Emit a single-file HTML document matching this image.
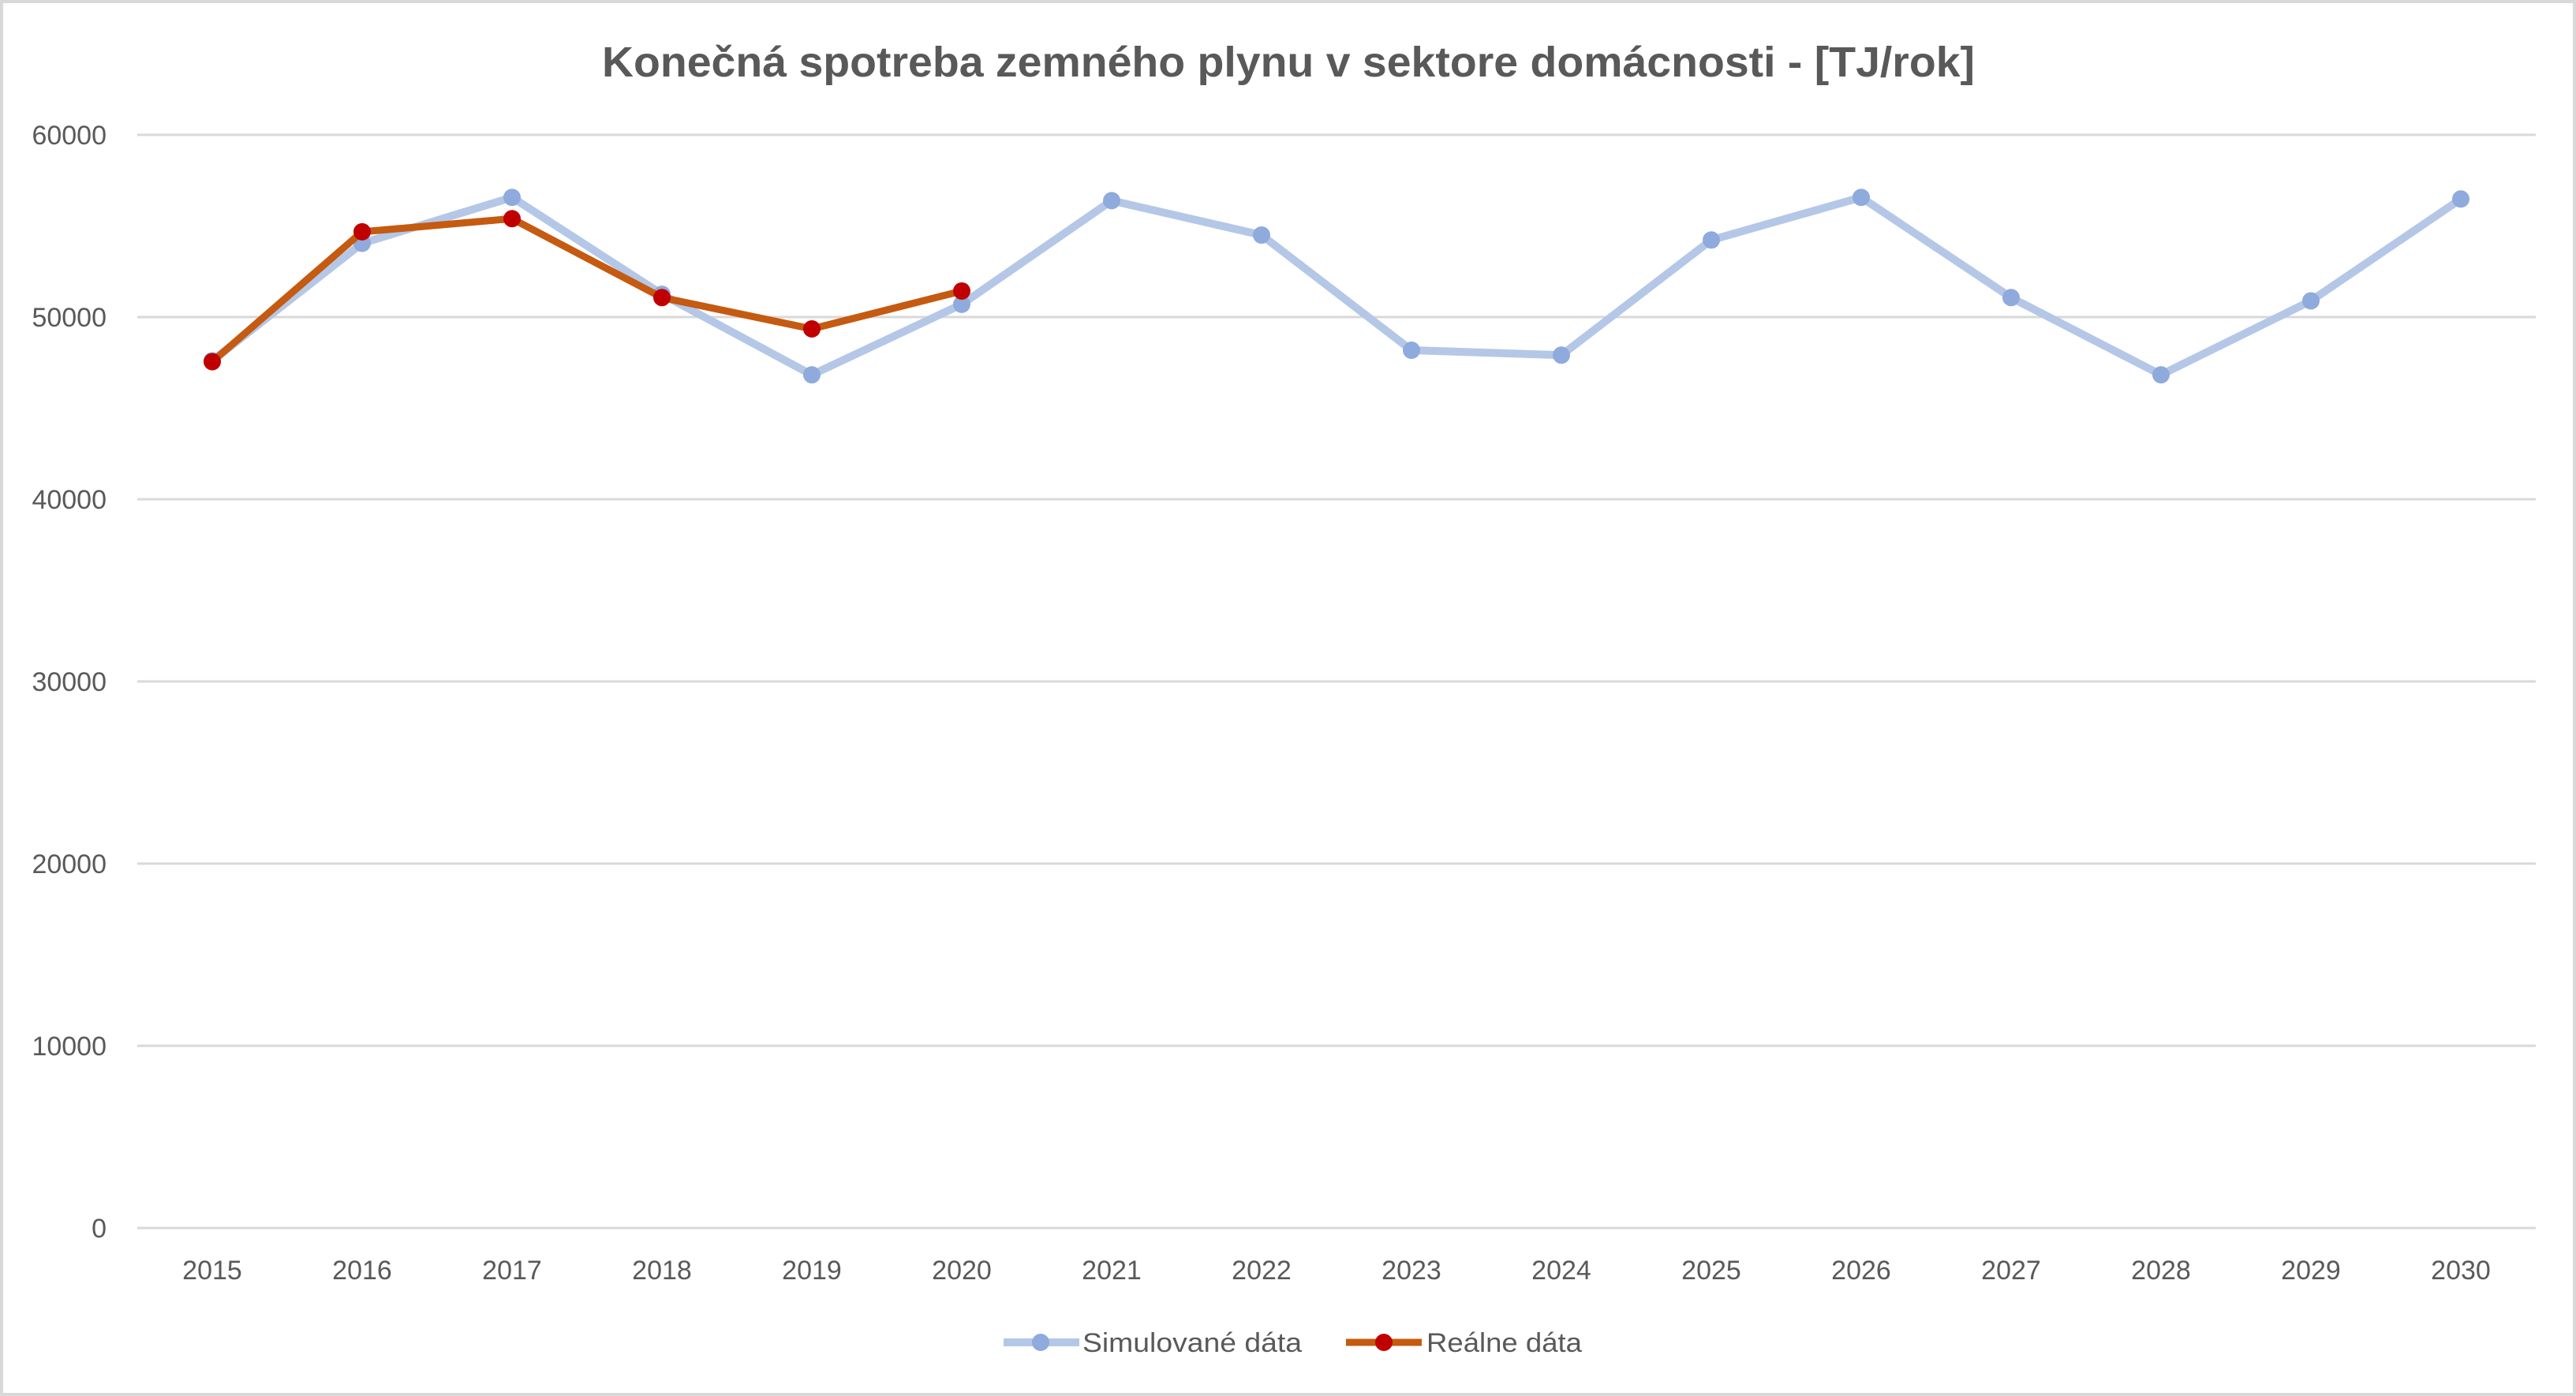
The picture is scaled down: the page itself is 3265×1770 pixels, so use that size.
<!DOCTYPE html>
<html><head><meta charset="utf-8"><style>
html,body{margin:0;padding:0;background:#fff}
svg{display:block}
text{font-family:"Liberation Sans",sans-serif;fill:#595959}
</style></head><body>
<svg id="chart" width="3265" height="1770" xmlns="http://www.w3.org/2000/svg">
<rect x="2" y="2" width="3261" height="1766" fill="#fff" stroke="#d9d9d9" stroke-width="4"/>
<text x="1633" y="97" text-anchor="middle" font-size="54" font-weight="bold" textLength="1740" lengthAdjust="spacingAndGlyphs">Konečná spotreba zemného plynu v sektore domácnosti - [TJ/rok]</text>
<g id="grid"></g><g id="yticks"></g><g id="xticks"></g><g id="series"></g>
<g>
<g>
<line x1="1272" y1="1702" x2="1368" y2="1702" stroke="#B4C7E7" stroke-width="10"/>
<circle cx="1319" cy="1702" r="11" fill="#8FAADC"/>
<text x="1372" y="1714" font-size="34" textLength="278" lengthAdjust="spacingAndGlyphs">Simulované dáta</text></g>
<g>
<line x1="1706" y1="1702" x2="1802" y2="1702" stroke="#C55A11" stroke-width="9"/>
<circle cx="1754" cy="1702" r="11" fill="#C00000"/>
<text x="1808" y="1714" font-size="34" textLength="197" lengthAdjust="spacingAndGlyphs">Reálne dáta</text></g>
</g>
</svg>
<script>
const years=[2015,2016,2017,2018,2019,2020,2021,2022,2023,2024,2025,2026,2027,2028,2029,2030];
const simulated=[47600,54050,56570,51250,46830,50700,56390,54500,48180,47910,54230,56570,51070,46830,50890,56480];
const real=[47550,54680,55400,51070,49350,51430];
const yTicks=[0,10000,20000,30000,40000,50000,60000];
const NS="http://www.w3.org/2000/svg";
const L=174,R=3214,T=171,B=1557,YMAX=60000;
const band=(R-L)/years.length;
const xs=i=>L+band*(i+0.5);
const ys=v=>B-(v/YMAX)*(B-T);
function mk(tag,attrs,parent){const e=document.createElementNS(NS,tag);for(const k in attrs)e.setAttribute(k,attrs[k]);parent.appendChild(e);return e;}
const g=document.getElementById('grid'),yt=document.getElementById('yticks'),xt=document.getElementById('xticks'),s=document.getElementById('series');
yTicks.forEach(v=>{
 const l=mk('line',{x1:L,x2:R,y1:ys(v),y2:ys(v),stroke:'#d9d9d9','stroke-width':3},g);
 
 
 const t=mk('text',{x:135,y:ys(v)+12,'text-anchor':'end','font-size':34},yt);
 t.textContent=v;
 
 
});
years.forEach((y,i)=>{
 const t=mk('text',{x:xs(i),y:1622,'text-anchor':'middle','font-size':34},xt);
 t.textContent=y;
 
 
});
function series(vals,lineC,lw,markC,name){
 const p=mk('polyline',{points:vals.map((v,i)=>xs(i)+','+ys(v)).join(' '),fill:'none',stroke:lineC,'stroke-width':lw,'stroke-linejoin':'round'},s);
 
 
 vals.forEach((v,i)=>{
  const c=mk('circle',{cx:xs(i),cy:ys(v),r:11,fill:markC},s);
  
  
 });
}
series(simulated,'#B4C7E7',10,'#8FAADC','simulated');
series(real,'#C55A11',9,'#C00000','real');
</script>
</body></html>
